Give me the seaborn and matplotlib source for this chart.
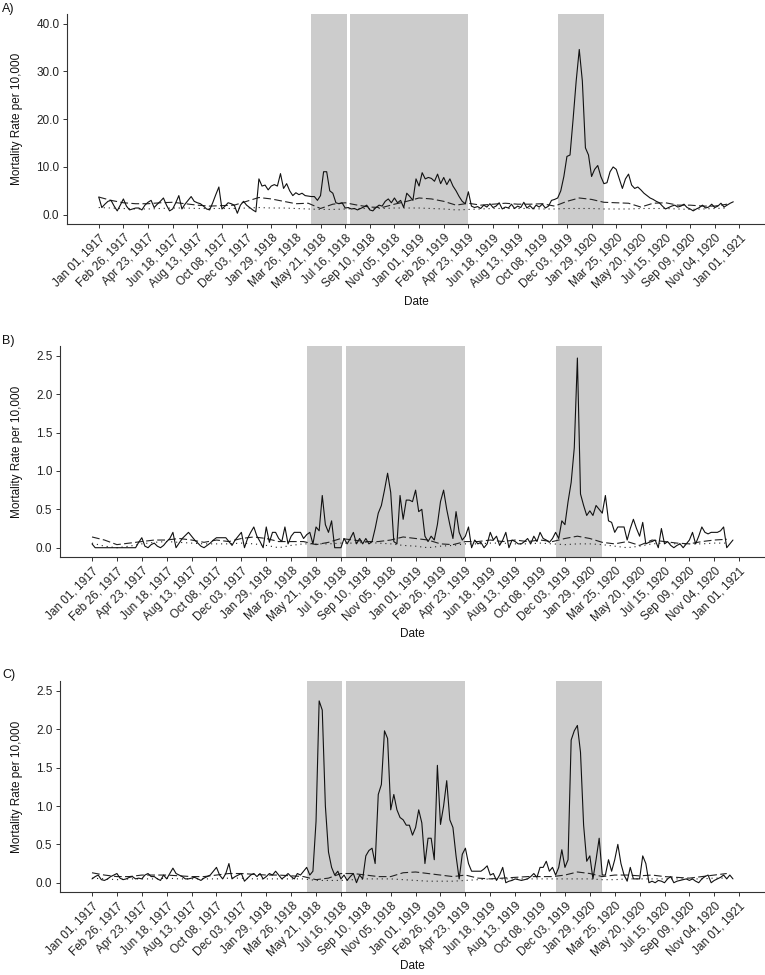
import numpy as np
import pandas as pd
import matplotlib
matplotlib.use("Agg")
import matplotlib.pyplot as plt
from matplotlib.ticker import FormatStrFormatter
import seaborn as sns

# ---------------- data ----------------
tick_labels = ["Jan 01, 1917", "Feb 26, 1917", "Apr 23, 1917", "Jun 18, 1917", "Aug 13, 1917",
               "Oct 08, 1917", "Dec 03, 1917", "Jan 29, 1918", "Mar 26, 1918", "May 21, 1918",
               "Jul 16, 1918", "Sep 10, 1918", "Nov 05, 1918", "Jan 01, 1919", "Feb 26, 1919",
               "Apr 23, 1919", "Jun 18, 1919", "Aug 13, 1919", "Oct 08, 1919", "Dec 03, 1919",
               "Jan 29, 1920", "Mar 25, 1920", "May 20, 1920", "Jul 15, 1920", "Sep 09, 1920",
               "Nov 04, 1920", "Jan 01, 1921"]

# pandemic waves (week index since Jan 01, 1917)
wave_start = [69.0, 81.7, 149.1]
wave_end = [80.5, 120.0, 164.0]

# Panel A - observed weekly mortality
a_obs = [3.7, 1.5, 2.2, 2.8, 3.0, 1.8, 0.8, 2.0, 3.3, 1.8,
         1.0, 1.2, 1.4, 1.4, 1.0, 2.0, 2.6, 3.0, 1.5, 2.2,
         2.8, 3.5, 2.0, 0.8, 1.2, 2.5, 4.0, 1.2, 2.2, 3.0,
         3.8, 2.8, 2.5, 2.3, 1.8, 1.2, 1.0, 2.5, 4.2, 5.8,
         1.2, 1.8, 2.5, 2.3, 2.0, 0.3, 2.0, 2.8, 2.0, 1.5,
         1.0, 0.6, 7.5, 6.0, 6.2, 5.2, 6.0, 6.3, 6.0, 8.6,
         5.5, 6.5, 5.0, 4.0, 4.6, 4.2, 4.5, 4.0, 3.9, 3.8,
         3.8, 3.0, 4.0, 9.0, 9.0, 5.0, 4.5, 2.5, 2.3, 2.5,
         1.4, 1.5, 1.2, 1.3, 1.0, 1.3, 1.6, 2.0, 1.0, 0.8,
         1.5, 2.0, 1.8, 2.8, 3.3, 2.5, 3.5, 2.5, 3.0, 1.5,
         4.5, 3.8, 3.0, 7.5, 6.0, 8.8, 7.5, 7.8, 7.6, 7.0,
         8.5, 6.5, 7.8, 6.3, 7.5, 6.0, 5.0, 3.8, 2.8, 2.3,
         4.8, 1.8, 1.5, 1.7, 1.3, 2.0, 1.6, 2.3, 1.5, 1.8,
         2.5, 1.2, 1.6, 1.4, 2.2, 1.3, 1.8, 1.5, 2.6, 1.4,
         1.9, 1.2, 2.0, 1.6, 2.2, 1.4, 1.8, 3.0, 3.2, 3.5,
         5.0, 8.0, 12.2, 12.5, 20.0, 28.0, 34.6, 28.0, 14.0, 12.5,
         8.0, 9.5, 10.3, 8.0, 6.5, 6.7, 9.0, 10.0, 9.5, 7.5,
         5.5, 7.5, 8.5, 6.2, 5.5, 5.8, 5.2, 4.5, 4.0, 3.5,
         3.2, 2.8, 2.5, 1.8, 1.2, 1.5, 1.8, 2.0, 1.6, 1.8,
         2.2, 1.5, 1.2, 0.8, 1.2, 1.5, 2.0, 1.4, 1.6, 2.2,
         1.5, 1.8, 2.4, 1.6, 2.0, 2.4, 2.7]
# Panel A - baselines (every 4 weeks)
a_base = [3.7, 3.0, 2.5, 2.3, 2.3, 2.5, 2.6, 2.3, 2.0, 1.8,
          1.9, 2.0, 2.8, 3.6, 3.3, 2.8, 2.3, 2.4, 1.3, 2.2,
          2.5, 2.0, 1.6, 1.5, 2.2, 2.8, 3.5, 3.3, 2.8, 2.0,
          2.4, 2.0, 2.2, 2.4, 2.2, 2.2, 2.3, 1.8, 2.8, 3.5,
          3.2, 2.6, 2.5, 2.4, 1.6, 2.4, 2.5, 2.0, 2.0, 1.8,
          1.8, 2.2]
a_low = [1.5, 1.4, 1.3, 1.2, 1.2, 1.3, 1.4, 1.4, 1.3, 1.3,
         1.3, 1.3, 1.4, 1.5, 1.4, 1.4, 1.3, 1.2, 1.1, 1.1,
         1.2, 1.3, 1.3, 1.3, 1.4, 1.4, 1.4, 1.3, 1.2, 1.0,
         1.1, 1.2, 1.3, 1.3, 1.3, 1.3, 1.2, 1.2, 1.3, 1.3,
         1.3, 1.2, 1.2, 1.2, 1.3, 1.3, 1.3, 1.2, 1.1, 1.2,
         1.3, 1.4]

# Panel B
b_obs = [0.05, 0.0, 0.0, 0.0, 0.0, 0.0, 0.0, 0.0, 0.0, 0.0,
         0.0, 0.0, 0.0, 0.0, 0.0, 0.07, 0.13, 0.02, 0.0, 0.04,
         0.06, 0.02, 0.0, 0.03, 0.08, 0.12, 0.2, 0.0, 0.06, 0.12,
         0.16, 0.2, 0.15, 0.1, 0.06, 0.02, 0.0, 0.03, 0.06, 0.1,
         0.13, 0.13, 0.13, 0.13, 0.08, 0.03, 0.1, 0.15, 0.2, 0.0,
         0.12, 0.2, 0.27, 0.15, 0.08, 0.0, 0.27, 0.07, 0.2, 0.2,
         0.12, 0.08, 0.27, 0.05, 0.15, 0.2, 0.2, 0.2, 0.12, 0.17,
         0.2, 0.05, 0.27, 0.22, 0.68, 0.3, 0.2, 0.35, 0.0, 0.0,
         0.0, 0.12, 0.05, 0.12, 0.2, 0.05, 0.12, 0.05, 0.12, 0.05,
         0.08, 0.25, 0.45, 0.55, 0.75, 0.97, 0.72, 0.08, 0.05, 0.68,
         0.37, 0.62, 0.62, 0.6, 0.75, 0.47, 0.5, 0.15, 0.08, 0.15,
         0.1, 0.3, 0.6, 0.75, 0.5, 0.3, 0.12, 0.47, 0.2, 0.1,
         0.15, 0.27, 0.0, 0.1, 0.05, 0.07, 0.0, 0.05, 0.2, 0.1,
         0.15, 0.03, 0.1, 0.2, 0.0, 0.1, 0.08, 0.05, 0.05, 0.08,
         0.12, 0.05, 0.15, 0.08, 0.2, 0.12, 0.1, 0.07, 0.12, 0.2,
         0.12, 0.35, 0.3, 0.6, 0.85, 1.3, 2.47, 0.7, 0.55, 0.42,
         0.48, 0.42, 0.55, 0.5, 0.45, 0.68, 0.35, 0.33, 0.2, 0.27,
         0.27, 0.27, 0.1, 0.25, 0.37, 0.25, 0.15, 0.33, 0.05, 0.07,
         0.08, 0.1, 0.0, 0.25, 0.05, 0.08, 0.03, 0.0, 0.03, 0.05,
         0.0, 0.05, 0.1, 0.2, 0.05, 0.15, 0.27, 0.2, 0.18, 0.2,
         0.2, 0.2, 0.22, 0.27, 0.0, 0.05, 0.1]
b_base = [0.14, 0.1, 0.04, 0.06, 0.08, 0.1, 0.1, 0.12, 0.1, 0.07,
          0.1, 0.08, 0.12, 0.14, 0.12, 0.08, 0.08, 0.08, 0.04, 0.07,
          0.12, 0.1, 0.08, 0.08, 0.1, 0.14, 0.12, 0.1, 0.05, 0.04,
          0.08, 0.08, 0.1, 0.08, 0.1, 0.08, 0.1, 0.08, 0.12, 0.15,
          0.12, 0.07, 0.05, 0.08, 0.03, 0.1, 0.08, 0.06, 0.05, 0.08,
          0.1, 0.11]
b_low = [0.06, 0.02, 0.0, 0.02, 0.05, 0.07, 0.08, 0.07, 0.06, 0.05,
         0.05, 0.05, 0.06, 0.05, 0.03, 0.0, 0.03, 0.05, 0.05, 0.05,
         0.06, 0.06, 0.07, 0.06, 0.05, 0.03, 0.02, 0.0, 0.02, 0.03,
         0.05, 0.05, 0.06, 0.06, 0.05, 0.05, 0.06, 0.05, 0.04, 0.05,
         0.05, 0.04, 0.02, 0.0, 0.02, 0.05, 0.06, 0.05, 0.05, 0.05,
         0.06, 0.06]

# Panel C
c_obs = [0.05, 0.08, 0.1, 0.04, 0.03, 0.05, 0.08, 0.1, 0.12, 0.06,
         0.04, 0.05, 0.07, 0.08, 0.05, 0.06, 0.05, 0.1, 0.12, 0.08,
         0.08, 0.05, 0.03, 0.1, 0.05, 0.12, 0.19, 0.12, 0.1, 0.08,
         0.05, 0.05, 0.06, 0.07, 0.05, 0.03, 0.06, 0.08, 0.1, 0.15,
         0.2, 0.1, 0.05, 0.12, 0.25, 0.05, 0.08, 0.1, 0.12, 0.02,
         0.06, 0.1, 0.12, 0.08, 0.12, 0.05, 0.08, 0.12, 0.1, 0.15,
         0.1, 0.05, 0.08, 0.12, 0.08, 0.05, 0.12, 0.1, 0.15, 0.2,
         0.1, 0.15, 0.8, 2.37, 2.25, 1.0, 0.4, 0.2, 0.1, 0.15,
         0.05, 0.1, 0.03, 0.08, 0.12, 0.0, 0.1, 0.05, 0.35, 0.42,
         0.45, 0.25, 1.15, 1.28, 1.98, 1.88, 0.95, 1.15, 0.95, 0.85,
         0.82, 0.75, 0.75, 0.62, 0.72, 0.95, 0.78, 0.25, 0.58, 0.58,
         0.3, 1.53, 0.76, 1.0, 1.33, 0.82, 0.72, 0.35, 0.05, 0.37,
         0.45, 0.25, 0.15, 0.15, 0.15, 0.15, 0.18, 0.22, 0.1, 0.12,
         0.03, 0.1, 0.2, 0.0, 0.02, 0.03, 0.05, 0.04, 0.03, 0.04,
         0.05, 0.08, 0.12, 0.07, 0.2, 0.2, 0.28, 0.15, 0.2, 0.1,
         0.2, 0.43, 0.2, 0.3, 1.86, 1.98, 2.05, 1.7, 0.75, 0.28,
         0.35, 0.05, 0.3, 0.58, 0.1, 0.1, 0.3, 0.15, 0.3, 0.5,
         0.25, 0.1, 0.02, 0.2, 0.05, 0.05, 0.05, 0.35, 0.25, 0.0,
         0.02, 0.0, 0.03, 0.02, 0.0, 0.05, 0.08, 0.0, 0.02, 0.03,
         0.04, 0.05, 0.03, 0.05, 0.02, 0.0, 0.05, 0.08, 0.1, 0.0,
         0.03, 0.05, 0.07, 0.1, 0.05, 0.1, 0.05]
c_base = [0.13, 0.1, 0.08, 0.08, 0.1, 0.1, 0.1, 0.09, 0.08, 0.08,
          0.1, 0.12, 0.12, 0.11, 0.1, 0.1, 0.09, 0.08, 0.04, 0.06,
          0.12, 0.12, 0.1, 0.08, 0.08, 0.13, 0.14, 0.12, 0.1, 0.08,
          0.1, 0.06, 0.05, 0.06, 0.07, 0.08, 0.08, 0.08, 0.1, 0.14,
          0.12, 0.08, 0.1, 0.1, 0.09, 0.1, 0.08, 0.07, 0.06, 0.08,
          0.1, 0.12]
c_low = [0.06, 0.05, 0.04, 0.05, 0.05, 0.05, 0.06, 0.05, 0.05, 0.05,
         0.05, 0.06, 0.06, 0.05, 0.05, 0.05, 0.05, 0.05, 0.03, 0.03,
         0.03, 0.04, 0.05, 0.05, 0.05, 0.04, 0.03, 0.02, 0.02, 0.02,
         0.03, 0.04, 0.05, 0.05, 0.05, 0.05, 0.05, 0.05, 0.05, 0.05,
         0.05, 0.04, 0.04, 0.05, 0.05, 0.05, 0.05, 0.05, 0.05, 0.05,
         0.06, 0.06]

# ---------------- style ----------------
sns.set_style("ticks")
plt.rcParams["font.family"] = ["Liberation Sans", "DejaVu Sans"]
FS = 8.5
AX_COL = "#333333"

fig = plt.figure(figsize=(7.65, 9.75), dpi=100)

panels = [
    ("A)", a_obs, a_base, a_low, [0.0876, 0.7700, 0.9124, 0.2155], (-2, 42),
     [0, 10, 20, 30, 40], 3 / 975, -0.343),
    ("B)", b_obs, b_base, b_low, [0.0784, 0.4284, 0.9216, 0.2166], (-0.125, 2.625),
     [0, 0.5, 1.0, 1.5, 2.0, 2.5], 335 / 975, -0.336),
    ("C)", c_obs, c_base, c_low, [0.0784, 0.0848, 0.9216, 0.2164], (-0.125, 2.625),
     [0, 0.5, 1.0, 1.5, 2.0, 2.5], 669 / 975, -0.322),
]

tick_pos = np.arange(len(tick_labels)) * 8

for letter, obs, base, low, rect, ylim, yticks, ytop, xlab_y in panels:
    ax = fig.add_axes(rect)
    for x0, x1 in zip(wave_start, wave_end):
        ax.axvspan(x0, x1, color="#cccccc", lw=0, zorder=0)

    obs_df = pd.DataFrame({"week": np.arange(len(obs)), "rate": obs})
    base_weeks = np.arange(len(base)) * 4
    base_df = pd.DataFrame({"week": base_weeks, "rate": base})
    low_df = pd.DataFrame({"week": base_weeks, "rate": low})

    sns.lineplot(data=low_df, x="week", y="rate", ax=ax, color="#222222",
                 linewidth=0.8, linestyle=(0, (1, 3.5)), zorder=2)
    sns.lineplot(data=base_df, x="week", y="rate", ax=ax, color="#222222",
                 linewidth=0.8, linestyle=(0, (7, 3)), zorder=2)
    sns.lineplot(data=obs_df, x="week", y="rate", ax=ax, color="#111111",
                 linewidth=0.8, zorder=3)

    ax.set_xlim(-10.3, 216.3)
    ax.set_ylim(*ylim)
    ax.set_yticks(yticks)
    ax.yaxis.set_major_formatter(FormatStrFormatter("%.1f"))
    ax.set_xticks(tick_pos)
    ax.set_xticklabels(tick_labels, rotation=45, ha="right", va="top",
                       rotation_mode="anchor", fontsize=FS, color="#222222")
    ax.tick_params(axis="y", labelsize=FS, labelcolor="#222222")
    ax.tick_params(axis="both", length=3, width=0.7, color=AX_COL, pad=2.5)

    for s in ["top", "right"]:
        ax.spines[s].set_visible(False)
    for s in ["left", "bottom"]:
        ax.spines[s].set_color(AX_COL)
        ax.spines[s].set_linewidth(0.8)

    ax.set_xlabel("Date", fontsize=FS, color="#111111")
    ax.xaxis.set_label_coords(0.5, xlab_y)
    ax.set_ylabel("Mortality Rate per 10,000", fontsize=FS, color="#111111")
    left_px = rect[0] * 765
    ax.yaxis.set_label_coords((23.5 - left_px) / (rect[2] * 765), 0.5)

    fig.text(0.003, 1 - ytop, letter, ha="left", va="top", fontsize=FS + 0.5, color="#111111")

fig.savefig("out.png", dpi=100)
